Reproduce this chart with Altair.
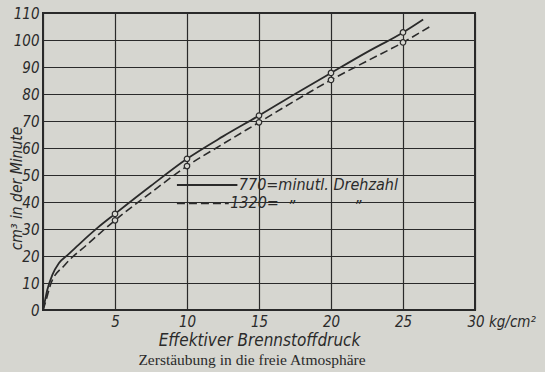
import altair as alt
import pandas as pd

# Solid curve (770 rpm)
x_solid = [0, 0.1, 0.3, 0.65, 1.1, 1.7, 2.6, 3.8, 5, 7.5, 10, 12.5, 15, 17.5, 20, 22.5, 25, 26.4]
y_solid = [0, 2.5, 7.5, 13, 17.3, 20.3, 24.8, 30.5, 35.6, 46.0, 56.0, 64.3, 72.0, 80.0, 87.8, 95.5, 102.8, 107.6]
# Dashed curve (1320 rpm)
x_dash = [0, 0.15, 0.55, 1.5, 3.1, 5, 7.5, 10, 12.5, 15, 17.5, 20, 22.5, 25, 27.0]
y_dash = [0, 2.5, 9.8, 16.6, 24.4, 33.2, 43.5, 53.3, 61.5, 69.5, 77.5, 85.2, 92.2, 99.1, 105.4]
# Measured points
pts_x = [5, 10, 15, 20, 25]
pts_solid = [35.6, 56.0, 72.0, 87.8, 102.8]
pts_dash = [33.2, 53.3, 69.5, 85.2, 99.1]

# Legend (inside plot, data units)
leg_x1 = [9.3, 9.3]
leg_x2 = [13.5, 12.9]
leg_y = [46.3, 39.5]
leg_dash = ["solid", "dashed"]
leg_text = ["770=minutl. Drehzahl", "1320=", "\u201d", "\u201d"]
leg_tx = [13.6, 13.0, 17.0, 21.6]
leg_ty = [46.3, 39.5, 38.3, 38.3]

INK = "#2a2a2a"
BG = "#d6d6d0"
SANS = "Liberation Sans Narrow, DejaVu Sans Condensed, Liberation Sans"

df_s = pd.DataFrame({"x": x_solid, "y": y_solid})
df_d = pd.DataFrame({"x": x_dash, "y": y_dash})
df_p = pd.DataFrame({"x": pts_x * 2, "y": pts_solid + pts_dash})
df_leg = pd.DataFrame({"x": leg_x1, "x2": leg_x2, "y": leg_y, "k": leg_dash})
df_lt = pd.DataFrame({"x": leg_tx, "y": leg_ty, "t": leg_text})

xs = alt.Scale(domain=[0, 30], nice=False)
ys = alt.Scale(domain=[0, 110], nice=False)

x_axis = alt.Axis(
    values=[0, 5, 10, 15, 20, 25, 30],
    labelExpr="datum.value == 0 ? '' : (datum.value == 30 ? '30 kg/cm\u00b2' : datum.label)",
    labelAlign={"condition": {"test": "datum.value == 30", "value": "left"}, "value": "center"},
    labelOffset={"condition": {"test": "datum.value == 30", "value": -8}, "value": 0},
    labelOverlap=False,
    title="Effektiver Brennstoffdruck",
    titlePadding=3,
)
y_axis = alt.Axis(
    values=list(range(0, 111, 10)),
    tickCount=12,
    labelOverlap=False,
    labelFlush=False,
    title="cm\u00b3 in der Minute",
    titleX=-27,
    titleY=175,
    titleAlign="center",
    titleBaseline="middle",
    titleFontSize=15.5,
)

X = alt.X("x:Q", scale=xs, axis=x_axis)
Y = alt.Y("y:Q", scale=ys, axis=y_axis)

solid = alt.Chart(df_s).mark_line(color=INK, strokeWidth=1.8, interpolate="monotone").encode(x=X, y=Y)
dashed = alt.Chart(df_d).mark_line(color=INK, strokeWidth=1.6, strokeDash=[8, 4], interpolate="monotone").encode(x=X, y=Y)
points = alt.Chart(df_p).mark_point(shape="circle", size=30, filled=True, fill=BG, stroke=INK, strokeWidth=1.2, opacity=1).encode(x=X, y=Y)
leg_lines = alt.Chart(df_leg).mark_rule(color=INK, strokeWidth=1.8).encode(
    x=X,
    x2="x2:Q",
    y=Y,
    strokeDash=alt.StrokeDash("k:N", scale=alt.Scale(domain=["solid", "dashed"], range=[[1, 0], [8, 4]]), legend=None),
)
leg_text_l = alt.Chart(df_lt).mark_text(align="left", baseline="middle", font=SANS, fontSize=16, fontStyle="italic", color=INK).encode(
    x=X, y=Y, text="t:N",
)

chart = alt.layer(solid, dashed, points, leg_lines, leg_text_l).properties(
    width=432,
    height=297,
    autosize=alt.AutoSizeParams(type="none"),
    padding={"left": 43, "top": 13, "right": 70, "bottom": 62},
    background=BG,
    title=alt.TitleParams(
        "Zerst\u00e4ubung in die freie Atmosph\u00e4re",
        orient="bottom",
        anchor="middle",
        font="Liberation Serif",
        fontSize=15.5,
        fontWeight="normal",
        color=INK,
        offset=5,
        dx=-7,
    ),
).configure_view(
    stroke=INK, strokeWidth=2
).configure_axis(
    grid=True,
    gridColor=INK,
    gridWidth=1.2,
    gridOpacity=1,
    domain=False,
    ticks=False,
    labelFont=SANS,
    labelFontSize=15,
    labelFontStyle="italic",
    labelColor=INK,
    labelPadding=4,
    titleFont=SANS,
    titleFontSize=17,
    titleFontStyle="italic",
    titleFontWeight="normal",
    titleColor=INK,
)

chart.save("out.html", embed_options={"renderer": "svg", "actions": False})
